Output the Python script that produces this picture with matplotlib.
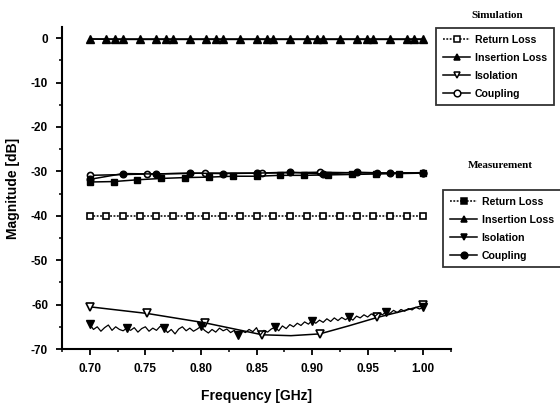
import matplotlib
matplotlib.use("Agg")
import matplotlib.pyplot as plt
from matplotlib.lines import Line2D
from matplotlib.ticker import MultipleLocator, FormatStrFormatter

plt.rcParams['font.family'] = ['Liberation Sans Narrow', 'Liberation Sans', 'DejaVu Sans']
plt.rcParams['axes.unicode_minus'] = False

# ---------------- data ----------------
# Simulation
sim_rl_f = [0.700, 0.715, 0.730, 0.745, 0.760, 0.775, 0.790, 0.805, 0.820, 0.835, 0.850,
            0.865, 0.880, 0.895, 0.910, 0.925, 0.940, 0.955, 0.970, 0.985, 1.000]
sim_rl = [-40.0, -40.0, -40.0, -40.0, -40.0, -40.0, -40.0, -40.0, -40.0, -40.0, -40.0,
          -40.0, -40.0, -40.0, -40.0, -40.0, -40.0, -40.0, -40.0, -40.0, -40.0]
sim_il_f = sim_rl_f
sim_il = [-0.1, -0.1, -0.1, -0.1, -0.1, -0.1, -0.1, -0.1, -0.1, -0.1, -0.1,
          -0.1, -0.1, -0.1, -0.1, -0.1, -0.1, -0.1, -0.1, -0.1, -0.1]
sim_iso_f = [0.700, 0.7517, 0.8034, 0.8552, 0.8810, 0.9069, 0.9328, 0.9586, 0.9793, 1.000]
sim_iso = [-60.5, -62.0, -64.1, -66.8, -67.0, -66.6, -64.8, -62.9, -61.6, -60.2]
sim_iso_marks = [0, 1, 2, 3, 5, 7, 9]
sim_cp_f = [0.700, 0.7517, 0.8034, 0.8552, 0.9069, 0.9586, 1.000]
sim_cp = [-30.9, -30.6, -30.4, -30.4, -30.2, -30.4, -30.3]

# Measurement
meas_rl_f = [0.7000, 0.7214, 0.7429, 0.7643, 0.7857, 0.8071, 0.8286, 0.8500,
             0.8714, 0.8929, 0.9143, 0.9357, 0.9571, 0.9786, 1.0000]
meas_rl = [-32.4, -32.3, -31.9, -31.6, -31.4, -31.3, -31.1, -31.1,
           -30.9, -30.9, -30.8, -30.7, -30.6, -30.5, -30.4]
meas_il_f = [0.700, 0.7225, 0.769, 0.8133, 0.859, 0.904, 0.949, 0.992, 1.000]
meas_il = [-0.2, -0.3, -0.3, -0.3, -0.3, -0.3, -0.3, -0.3, -0.3]
meas_il_marks = [1, 2, 3, 4, 5, 6, 7]
meas_cp_f = [0.70, 0.73, 0.76, 0.79, 0.82, 0.85, 0.88, 0.91, 0.94, 0.97, 1.00]
meas_cp = [-31.8, -30.5, -30.6, -30.4, -30.5, -30.4, -30.2, -30.6, -30.2, -30.4, -30.3]

meas_iso_f = [0.7000, 0.7033, 0.7067, 0.7100, 0.7133, 0.7167, 0.7200, 0.7233, 0.7267, 0.7300,
              0.7333, 0.7367, 0.7400, 0.7433, 0.7467, 0.7500, 0.7533, 0.7567, 0.7600, 0.7633,
              0.7667, 0.7700, 0.7733, 0.7767, 0.7800, 0.7833, 0.7867, 0.7900, 0.7933, 0.7967,
              0.8000, 0.8033, 0.8067, 0.8100, 0.8133, 0.8167, 0.8200, 0.8233, 0.8267, 0.8300,
              0.8333, 0.8367, 0.8400, 0.8433, 0.8467, 0.8500, 0.8533, 0.8567, 0.8600, 0.8633,
              0.8667, 0.8700, 0.8733, 0.8767, 0.8800, 0.8833, 0.8867, 0.8900, 0.8933, 0.8967,
              0.9000, 0.9033, 0.9067, 0.9100, 0.9133, 0.9167, 0.9200, 0.9233, 0.9267, 0.9300,
              0.9333, 0.9367, 0.9400, 0.9433, 0.9467, 0.9500, 0.9533, 0.9567, 0.9600, 0.9633,
              0.9667, 0.9700, 0.9733, 0.9767, 0.9800, 0.9833, 0.9867, 0.9900, 0.9933, 0.9967,
              1.0000]
meas_iso = [-64.4, -65.6, -65.0, -66.0, -65.2, -64.6, -65.8, -65.0, -65.6, -65.9,
            -65.3, -65.8, -65.2, -66.2, -65.4, -65.0, -66.0, -65.3, -65.8, -64.9,
            -65.2, -66.3, -65.6, -66.6, -65.5, -65.0, -65.9, -65.3, -66.0, -65.5,
            -64.9, -65.8, -66.4, -65.6, -66.2, -65.3, -65.9, -65.5, -66.3, -65.8,
            -66.8, -65.9, -66.3, -65.6, -66.1, -65.2, -66.9, -65.8, -66.2, -65.5,
            -65.1, -65.9, -64.8, -65.4, -64.5, -65.0, -64.2, -64.7, -63.9, -64.4,
            -63.6, -64.2, -63.5, -64.0, -63.2, -63.8, -63.0, -63.6, -62.9, -63.4,
            -62.9, -63.5, -62.6, -63.0, -62.3, -62.8, -62.1, -62.6, -61.9, -62.3,
            -61.6, -62.0, -61.3, -61.8, -61.1, -61.5, -60.9, -61.2, -60.6, -61.0,
            -60.5]

x_ticks = [0.70, 0.75, 0.80, 0.85, 0.90, 0.95, 1.00]
y_ticks = [0, -10, -20, -30, -40, -50, -60, -70]

# ---------------- figure ----------------
fig = plt.figure(figsize=(5.6, 4.05), dpi=100)
ax = fig.add_axes([62 / 560, 1 - 349 / 405, (451 - 62) / 560, (349 - 27) / 405])

k = 'black'
ms = 4.4
lw = 1.1
dot = (0, (1.2, 1.0))

# simulation
ax.plot(sim_rl_f, sim_rl, color=k, lw=lw, ls=dot, marker='s', ms=ms, mfc='white', mec=k, mew=1.2)
ax.plot(sim_il_f, sim_il, color=k, lw=lw, marker='^', ms=ms + 0.8, mfc=k, mec=k)
ax.plot(sim_iso_f, sim_iso, color=k, lw=lw, marker='v', ms=ms + 0.8, mfc='white', mec=k,
        mew=1.2, markevery=sim_iso_marks)
ax.plot(sim_cp_f, sim_cp, color=k, lw=lw, marker='o', ms=ms, mfc='white', mec=k, mew=1.2)

# measurement
ax.plot(meas_rl_f, meas_rl, color=k, lw=lw, marker='s', ms=ms, mfc=k, mec=k)
ax.plot(meas_il_f, meas_il, color=k, lw=lw, marker='^', ms=ms + 0.8, mfc=k, mec=k,
        markevery=meas_il_marks)
ax.plot(meas_iso_f, meas_iso, color=k, lw=0.9, marker='v', ms=ms + 1.0, mfc=k, mec=k,
        markevery=10)
ax.plot(meas_cp_f, meas_cp, color=k, lw=lw, marker='o', ms=ms + 0.4, mfc=k, mec=k)

ax.set_xlim(0.675, 1.025)
ax.set_ylim(-70, 2.5)
ax.set_xticks(x_ticks)
ax.set_yticks(y_ticks)
ax.xaxis.set_major_formatter(FormatStrFormatter('%.2f'))
ax.xaxis.set_minor_locator(MultipleLocator(0.025))
ax.yaxis.set_minor_locator(MultipleLocator(5))
for s in ('top', 'right'):
    ax.spines[s].set_visible(False)
for s in ('left', 'bottom'):
    ax.spines[s].set_linewidth(1.5)
ax.tick_params(which='major', direction='out', length=4, width=1.3, labelsize=8.5, pad=6)
ax.tick_params(which='minor', direction='out', length=2.5, width=1.1)
for lab in ax.get_xticklabels() + ax.get_yticklabels():
    lab.set_fontweight('bold')

ax.set_xlabel('Frequency [GHz]', fontsize=10, labelpad=10, fontweight='semibold')
ax.set_ylabel('Magnitude [dB]', fontsize=10, labelpad=8, fontweight='semibold')

# ---------------- legends ----------------
def handle(marker, filled, ls='-'):
    return Line2D([], [], color=k, lw=lw, ls=ls, marker=marker, ms=ms + 0.4,
                  mfc=k if filled else 'white', mec=k, mew=1.1)

names = ['Return Loss', 'Insertion Loss', 'Isolation', 'Coupling']
sim_handles = [handle('s', False, dot), handle('^', True), handle('v', False), handle('o', False)]
meas_handles = [handle('s', True, dot), handle('^', True), handle('v', True), handle('o', True)]

leg_kw = dict(fontsize=7.6, frameon=True, fancybox=False, edgecolor=k, borderpad=0.65,
              handlelength=2.6, handletextpad=0.4, labelspacing=0.75, borderaxespad=0)

leg1 = fig.legend(sim_handles, names, loc='upper left',
                  bbox_to_anchor=(436 / 560, 1 - 28 / 405), **leg_kw)
leg1.get_frame().set_linewidth(1.3)
leg2 = fig.legend(meas_handles, names, loc='upper left',
                  bbox_to_anchor=(443 / 560, 1 - 190 / 405), **leg_kw)
leg2.get_frame().set_linewidth(1.3)
for lg in (leg1, leg2):
    for t in lg.get_texts():
        t.set_fontweight('bold')

fig.text(497 / 560, 1 - 15 / 405, 'Simulation', ha='center', va='center', fontsize=8,
         fontweight='bold', family=['Liberation Serif', 'DejaVu Serif'])
fig.text(500 / 560, 1 - 165 / 405, 'Measurement', ha='center', va='center', fontsize=8,
         fontweight='bold', family=['Liberation Serif', 'DejaVu Serif'])

fig.savefig('out.png', dpi=100)
